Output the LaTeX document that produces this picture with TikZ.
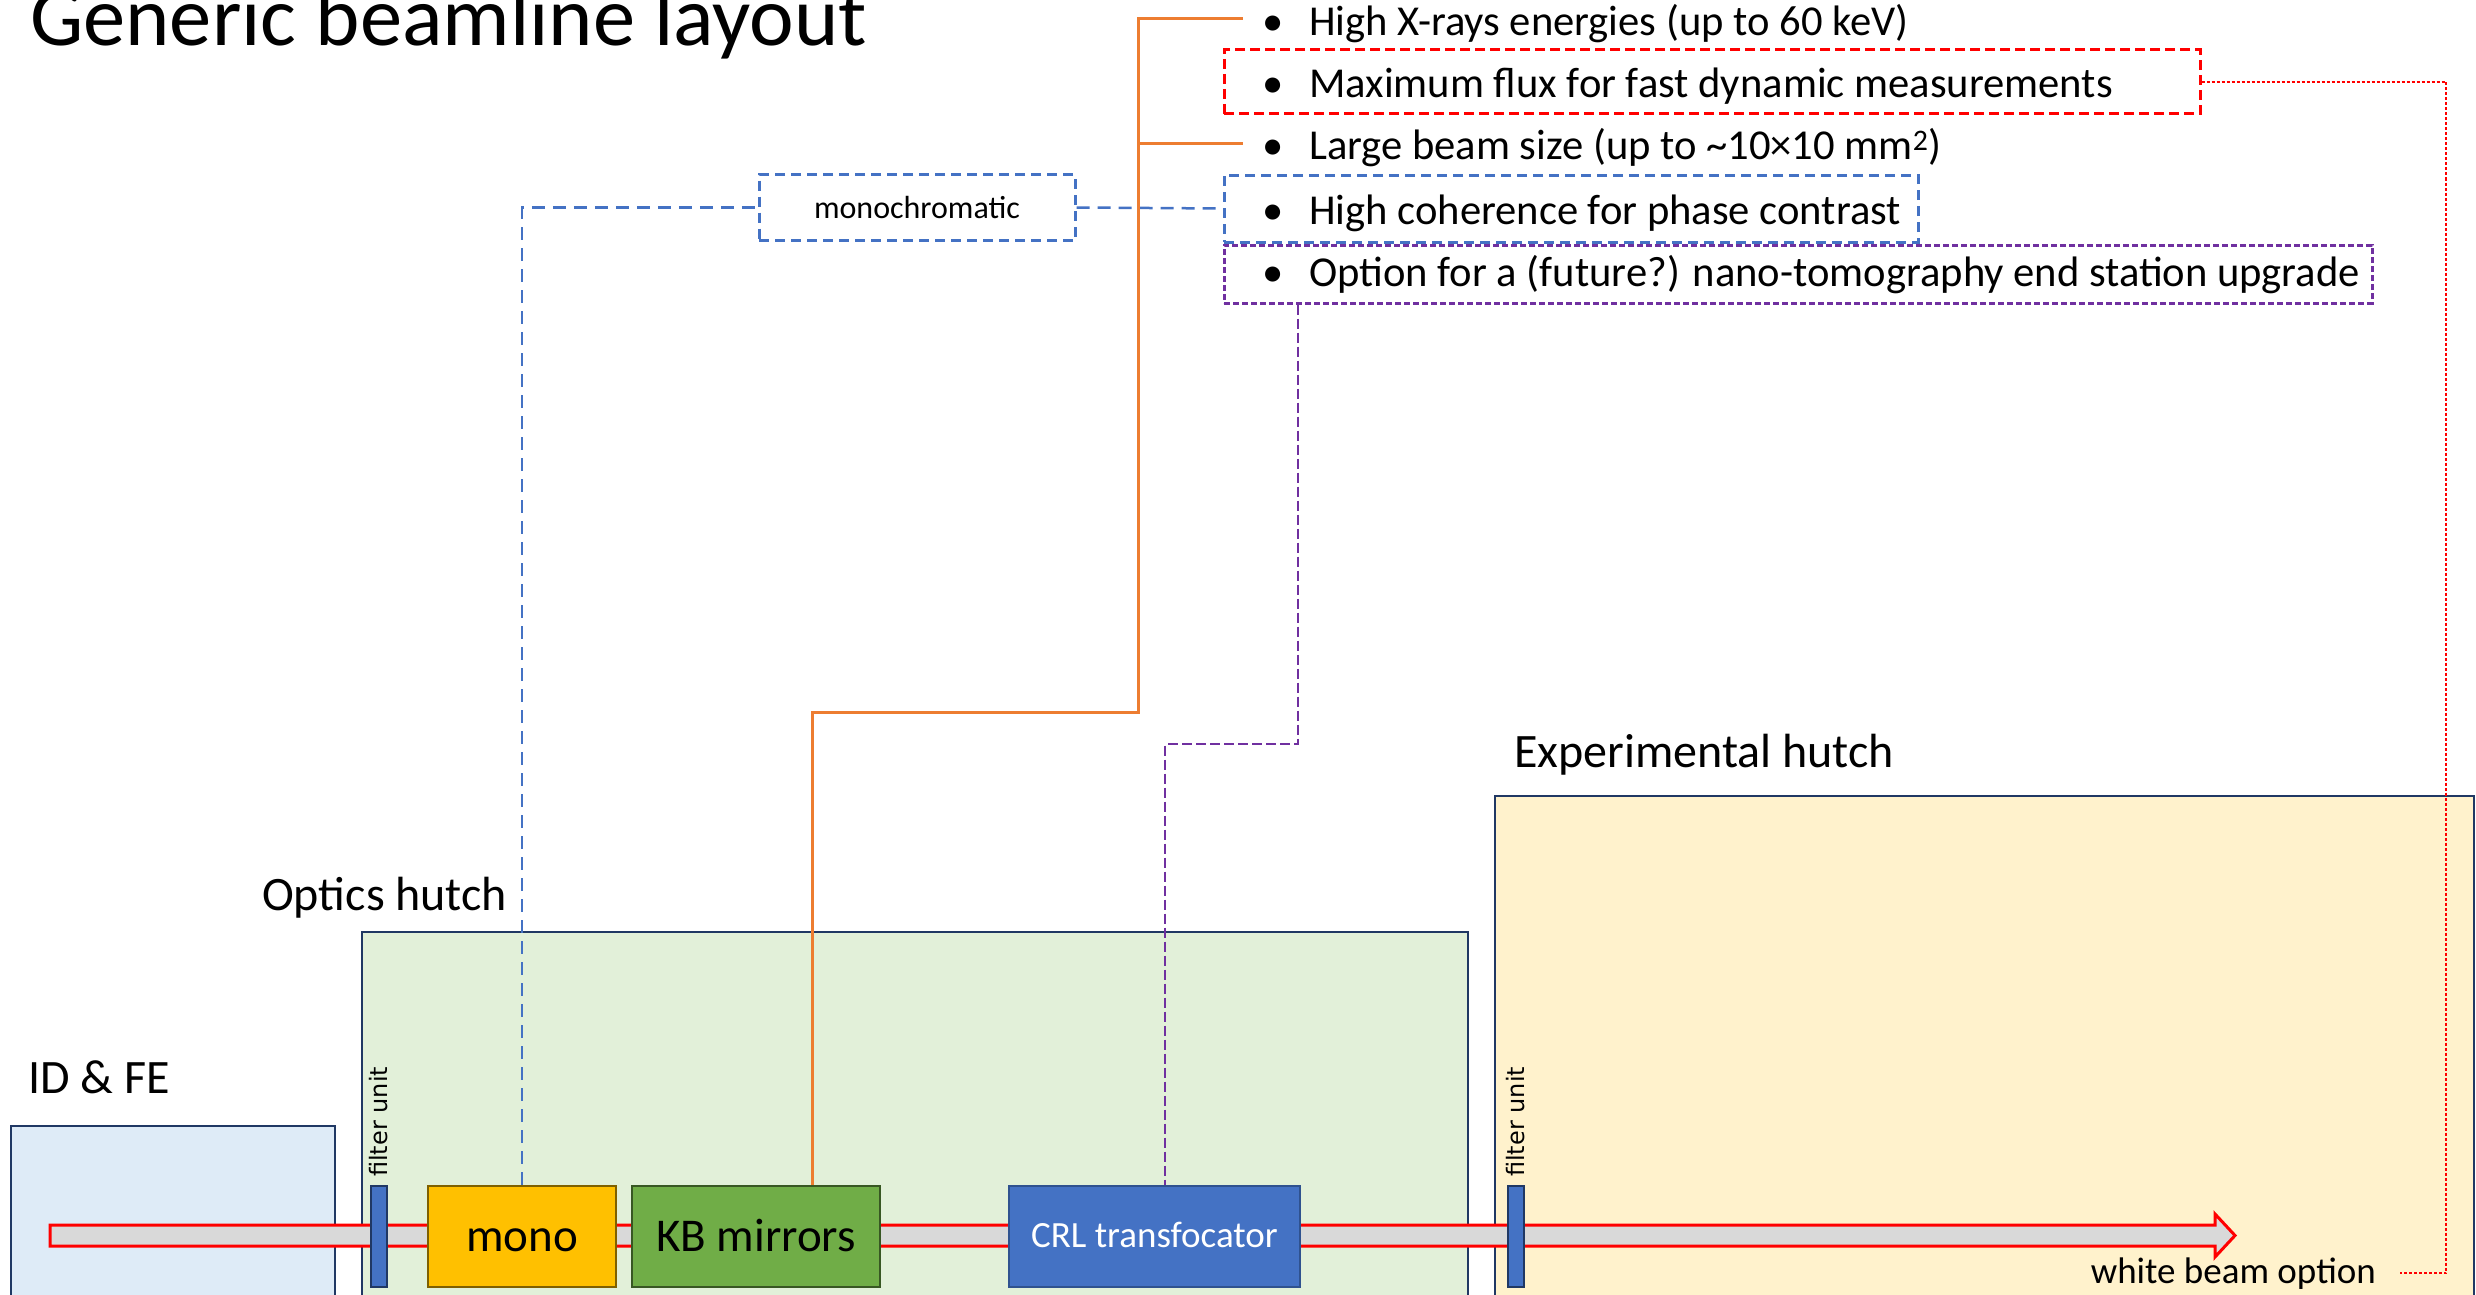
\documentclass[tikz,border=0pt]{standalone}
\usepackage{fontspec}
\setmainfont{Carlito}
\newfontfamily\dejavu{DejaVu Sans}
\usetikzlibrary{calc}
\definecolor{navy}{HTML}{203864}
\definecolor{idfefill}{HTML}{DEEBF7}
\definecolor{opticsfill}{HTML}{E2F0D9}
\definecolor{expfill}{HTML}{FFF2CC}
\definecolor{monofill}{HTML}{FFC000}
\definecolor{monoedge}{HTML}{7F6000}
\definecolor{kbfill}{HTML}{70AD47}
\definecolor{kbedge}{HTML}{385723}
\definecolor{crlfill}{HTML}{4472C4}
\definecolor{crledge}{HTML}{2F528F}
\definecolor{beamgrey}{HTML}{D9D9D9}
\definecolor{orangeline}{HTML}{ED7D31}
\definecolor{blueline}{HTML}{4472C4}
\definecolor{purpleline}{HTML}{7030A0}
\newcommand\setfs[1]{\fontsize{#1}{#1}\selectfont}
\begin{document}
\begin{tikzpicture}[x=1pt,y=-1pt,
  hutch/.style={draw=navy,line width=2pt,inner sep=0pt},
  hutchlabel/.style={anchor=base west,inner sep=0pt,font=\setfs{48}},
  comp/.style={line width=2.5pt,inner sep=0pt,minimum height=101pt,font=\setfs{47},text height=29pt,text depth=0pt},
  filterbar/.style={draw=navy,fill=crlfill,line width=2pt,inner sep=0pt,minimum width=16pt,minimum height=101pt},
  filtertext/.style={rotate=90,anchor=base west,inner sep=0pt,font=\dejavu\setfs{24}},
  bulletitem/.style={anchor=base west,inner sep=0pt,font=\setfs{42.6}},
  optbox/.style={line width=3pt,inner sep=0pt},
  bluedash/.style={draw=blueline,line width=2.5pt,dash pattern=on 13pt off 8pt},
  orangelink/.style={draw=orangeline,line width=3pt},
  purpledash/.style={draw=purpleline,line width=2.5pt,dash pattern=on 10pt off 4pt},
  reddot/.style={draw=red,line width=1.5pt,dash pattern=on 3pt off 2pt}
]
\useasboundingbox (0,0) rectangle (2476,1295);
\clip (0,0) rectangle (2476,1295);

% title
\node[anchor=base west,inner sep=0pt,font=\setfs{84.5}] (title) at (30,46) {Generic beamline layout};

% hutches
\node[hutch,fill=idfefill,minimum width=324pt,minimum height=194pt] (idfe) at (173,1223) {};
\node[hutch,fill=opticsfill,minimum width=1106pt,minimum height=388pt] (optics) at (915,1126) {};
\node[hutch,fill=expfill,minimum width=979pt,minimum height=524pt] (exph) at (1984.5,1058) {};
\node[hutchlabel] (idfelabel) at (28,1093) {ID \& FE};
\node[hutchlabel] (opticslabel) at (262,910) {Optics hutch};
\node[hutchlabel] (explabel) at (1514,767) {Experimental hutch};

% beam
\draw[draw=red,fill=beamgrey,line width=3pt,line join=miter]
  (50,1225) -- (2215,1225) -- (2215,1214) -- (2235,1235.5) -- (2215,1257) -- (2215,1246) -- (50,1246) -- cycle;

% components
\node[comp,draw=monoedge,fill=monofill,minimum width=188pt] (mono) at (522,1236.5) {mono};
\node[comp,draw=kbedge,fill=kbfill,minimum width=248pt] (kb) at (756,1236.5) {KB mirrors};
\node[comp,draw=crledge,fill=crlfill,minimum width=291pt,text=white,font=\setfs{37},text height=22pt] (crl) at (1154.5,1236.5) {CRL transfocator};
\node[filterbar] (f1) at (379,1236.5) {};
\node[filterbar] (f2) at (1516,1236.5) {};
\node[filtertext] (ft1) at ([xshift=-1pt,yshift=8pt]f1.north east) {filter unit};
\node[filtertext] (ft2) at ([xshift=-1pt,yshift=8pt]f2.north east) {filter unit};
\node[anchor=base east,inner sep=0pt,font=\setfs{37}] (wbo) at (2376,1283) {white beam option};

% requirement boxes
\node[optbox,draw=red,dash pattern=on 10pt off 5pt,minimum width=976pt,minimum height=64pt] (maxflux) at (1712,82) {};
\node[optbox,draw=blueline,dash pattern=on 10pt off 6pt,minimum width=694pt,minimum height=67pt] (coherence) at (1571,208.5) {};
\node[optbox,draw=purpleline,dash pattern=on 6pt off 3pt,minimum width=1148pt,minimum height=58pt] (nano) at (1798,274) {};
\node[optbox,draw=blueline,dash pattern=on 10pt off 6pt,minimum width=316pt,minimum height=66pt,font=\setfs{32}] (monochrom) at (917,207.5) {monochromatic};

% bullet texts
\node[bulletitem] (b1) at (1262,36) {\makebox[47pt][l]{\textbullet}High X-rays energies (up to 60 keV)};
\node[bulletitem] (b2) at (1262,98) {\makebox[47pt][l]{\textbullet}Maximum flux for fast dynamic measurements};
\node[bulletitem] (b3) at (1262,160) {\makebox[47pt][l]{\textbullet}Large beam size (up to \textasciitilde10×10 mm\textsuperscript{2})};
\node[bulletitem] (b4) at (1262,224) {\makebox[47pt][l]{\textbullet}High coherence for phase contrast};
\node[bulletitem] (b5) at (1262,286) {\makebox[47pt][l]{\textbullet}Option for a (future?) nano-tomography end station upgrade};

% connectors
\draw[bluedash] (mono.north) |- (monochrom.west);
\draw[bluedash] (monochrom.east) -- (coherence.west);

\coordinate (ojoin) at (1138,712);
\coordinate (otop) at (1138,19);
\coordinate (ohigh) at (1243,19);
\coordinate (olarge) at (1243,144);
\draw[orangelink] ([xshift=56pt]kb.north) |- (ojoin) -- (otop) -- (ohigh);
\draw[orangelink] (ojoin |- olarge) -- (olarge);

\coordinate (pbend) at (1298,744);
\draw[purpledash] (nano.south -| pbend) -- (pbend) -| ([xshift=10.5pt]crl.north);

\coordinate (rcorner) at (2446,1273);
\coordinate (rend) at ([xshift=24pt]wbo.east);
\draw[reddot] (maxflux.east) -| (rcorner) -- (rcorner -| rend);
\end{tikzpicture}
\end{document}
